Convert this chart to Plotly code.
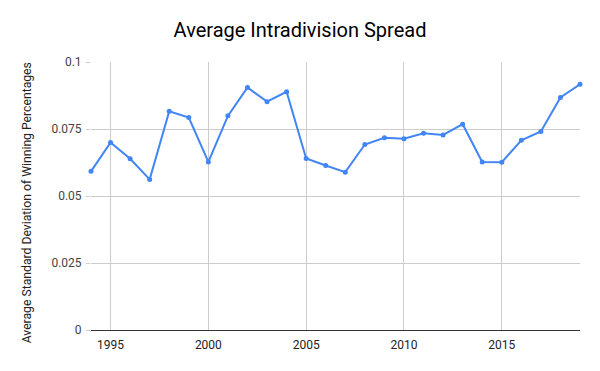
import plotly.graph_objects as go

years = list(range(1994, 2020))
spread = [0.0592, 0.0700, 0.0639, 0.0562, 0.0816, 0.0793, 0.0627, 0.0799, 0.0905,
          0.0852, 0.0889, 0.0640, 0.0614, 0.0589, 0.0692, 0.0717, 0.0714, 0.0734,
          0.0728, 0.0768, 0.0627, 0.0626, 0.0708, 0.0741, 0.0868, 0.0917]
y_ticks = [0, 0.025, 0.05, 0.075, 0.1]
y_labels = ["0", "0.025", "0.05", "0.075", "0.1"]
x_ticks = [1995, 2000, 2005, 2010, 2015]
y_title = "Average Standard Deviation of Winning Percentages"

fig = go.Figure(go.Scatter(
    x=years, y=spread, mode="lines+markers",
    line=dict(color="#4285F4", width=2),
    marker=dict(color="#4285F4", size=5),
    cliponaxis=False,
))

fig.update_layout(
    width=600, height=371,
    margin=dict(l=91, r=20, t=62, b=41),
    paper_bgcolor="white", plot_bgcolor="white",
    font=dict(family="Roboto", color="#444444", size=12),
    title=dict(text="Average Intradivision Spread", x=0.5, xanchor="center",
               y=0.918, yanchor="middle",
               font=dict(family="Roboto", size=20, color="#000000")),
    showlegend=False,
    annotations=[dict(text=y_title, textangle=-90, xref="paper", yref="paper",
                      x=-0.129, y=0.476, xanchor="center", yanchor="middle",
                      showarrow=False, font=dict(color="#222222", size=12.2))],
)
fig.update_xaxes(
    range=[1994, 2019], tickvals=x_ticks, ticktext=[str(t) for t in x_ticks],
    showgrid=True, gridcolor="#cccccc", gridwidth=1,
    showline=False, zeroline=False, ticks="",
    tickfont=dict(color="#222222", size=12), ticklabelstandoff=6,
)
fig.update_yaxes(
    range=[0, 0.1], tickvals=y_ticks, ticktext=y_labels,
    showgrid=True, gridcolor="#cccccc", gridwidth=1,
    zeroline=True, zerolinecolor="#333333", zerolinewidth=1,
    showline=False, ticks="outside", ticklen=4, tickcolor="#cccccc", tickwidth=1,
    ticklabelstandoff=2,
    tickfont=dict(color="#444444", size=12),
    automargin=False,
)

fig.write_html("out.html", config={"displayModeBar": False},
               post_script="document.body.style.margin='0';document.body.style.overflow='hidden';")
